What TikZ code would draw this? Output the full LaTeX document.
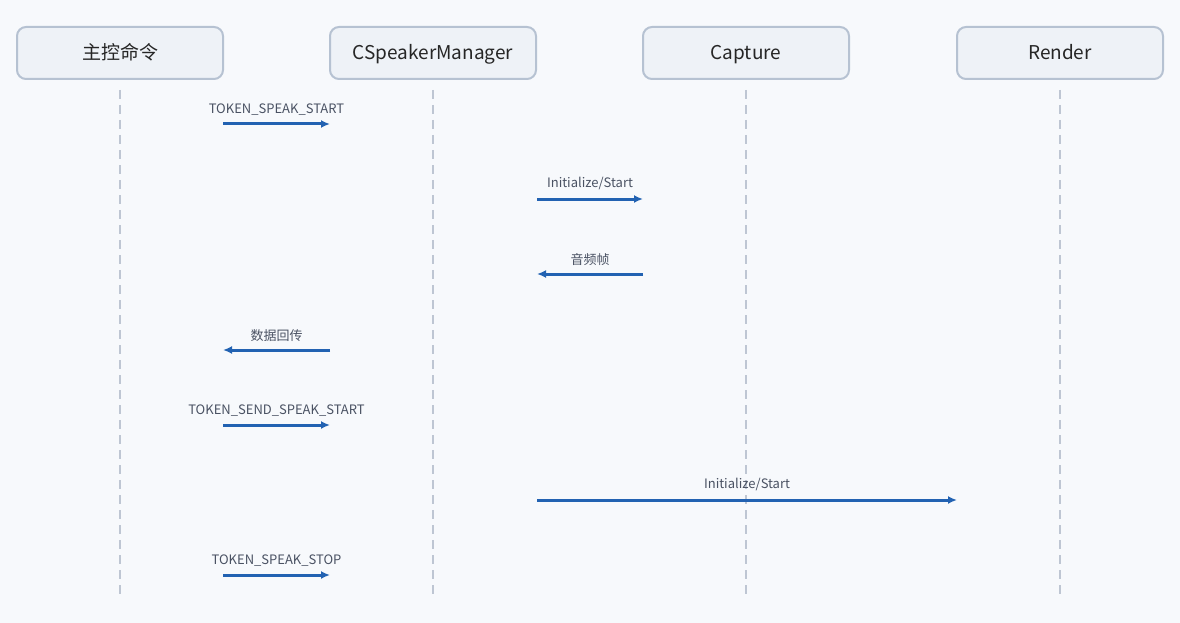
\documentclass[tikz,border=0pt]{standalone}
\usepackage{fontspec}
\setmainfont{Noto Sans CJK SC}
\usetikzlibrary{arrows.meta}
\definecolor{bgc}{HTML}{F7F9FC}
\definecolor{boxfill}{HTML}{EEF2F7}
\definecolor{boxline}{HTML}{B6C2D2}
\definecolor{lifec}{HTML}{BEC6D3}
\definecolor{msgc}{HTML}{2262B2}
\definecolor{txtc}{HTML}{4A5263}
\tikzset{
  actor/.style={draw=boxline, line width=2pt, fill=boxfill, rounded corners=9pt,
    minimum width=206pt, minimum height=52pt, font=\fontsize{19}{22}\selectfont,
    text height=16pt, text depth=2pt, text=black!85},
  life/.style={draw=lifec, line width=1.8pt, dash pattern=on 9pt off 6pt},
  msg/.style={draw=msgc, line width=3pt, -{Latex[length=9pt,width=8pt]}},
  msgtext/.style={font=\fontsize{13}{15}\selectfont, text=txtc, above=4pt}
}
\begin{document}
\begin{tikzpicture}[x=1pt,y=-1pt]
  \fill[bgc] (0,0) rectangle (1180,623);
  \useasboundingbox (0,0) rectangle (1180,623);
  \draw
    (120,53) node[actor] (m){主控命令}
    (433,53) node[actor] (s){CSpeakerManager}
    (746,53) node[actor] (c){Capture}
    (1060,53) node[actor] (r){Render};
  % lifelines
  \foreach \n/\x in {m/120,s/433,c/746,r/1060} {
    \coordinate (\n top) at (\x,90);
    \coordinate (\n bot) at (\x,597);
    \draw[life] (\n top) -- (\n bot);
  }
  % message ends
  \coordinate (m1) at (223,124); \coordinate (s1) at (330,124);
  \coordinate (s2) at (537,199); \coordinate (c2) at (643,199);
  \coordinate (s3) at (537,274); \coordinate (c3) at (643,274);
  \coordinate (m4) at (223,350); \coordinate (s4) at (330,350);
  \coordinate (m5) at (223,425); \coordinate (s5) at (330,425);
  \coordinate (s6) at (537,500); \coordinate (r6) at (957,500);
  \coordinate (m7) at (223,575); \coordinate (s7) at (330,575);
  \begin{scope}[msg]
    \draw (m1) to node[msgtext]{TOKEN\_SPEAK\_START} (s1);
    \draw (s2) to node[msgtext]{Initialize/Start} (c2);
    \draw (c3) to node[msgtext]{音频帧} (s3);
    \draw (s4) to node[msgtext]{数据回传} (m4);
    \draw (m5) to node[msgtext]{TOKEN\_SEND\_SPEAK\_START} (s5);
    \draw (s6) to node[msgtext]{Initialize/Start} (r6);
    \draw (m7) to node[msgtext]{TOKEN\_SPEAK\_STOP} (s7);
  \end{scope}
\end{tikzpicture}
\end{document}
